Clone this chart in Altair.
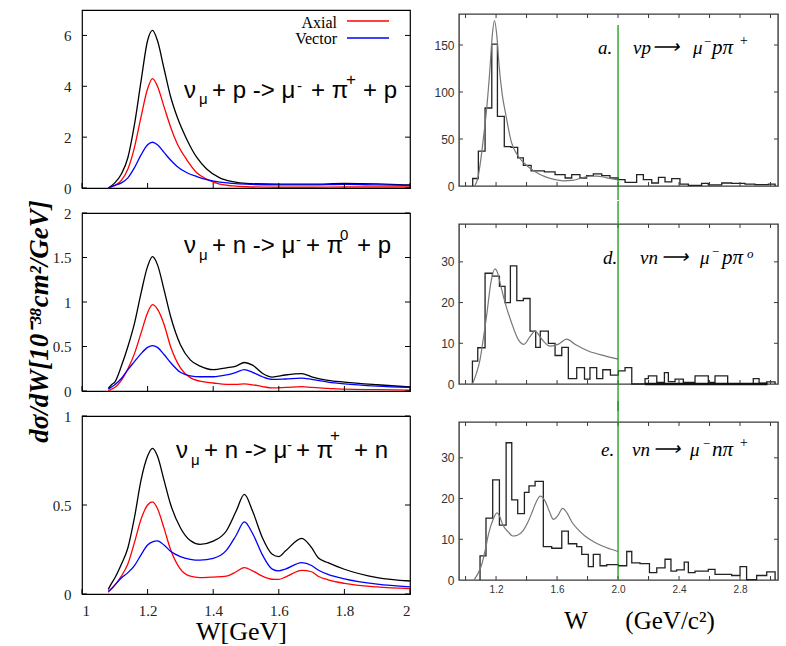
import altair as alt
import pandas as pd

SERIF = "Liberation Serif"
SANS = "Liberation Sans"
ONE = pd.DataFrame({"z": [0]})

# ---------------- theory curves: dsigma/dW in 1e-38 cm^2/GeV ----------------
# nu_mu + p -> mu- + pi+ + p
W_PP = [1.08, 1.10, 1.12, 1.14, 1.16, 1.18, 1.20, 1.215, 1.23, 1.25, 1.27, 1.29,
        1.32, 1.35, 1.38, 1.42, 1.46, 1.50, 1.60, 1.70, 1.80, 1.90, 2.00]
PP_TOTAL = [0, 0.2, 0.55, 1.2, 2.5, 4.2, 5.8, 6.2, 5.8, 4.7, 3.6, 2.8,
            1.9, 1.2, 0.75, 0.4, 0.25, 0.18, 0.15, 0.15, 0.18, 0.16, 0.12]
PP_AXIAL = [0, 0.1, 0.3, 0.75, 1.6, 2.8, 3.9, 4.3, 4.0, 3.2, 2.4, 1.75,
            1.1, 0.6, 0.35, 0.15, 0.08, 0.05, 0.03, 0.03, 0.04, 0.04, 0.04]
PP_VECTOR = [0, 0.1, 0.2, 0.4, 0.8, 1.3, 1.7, 1.8, 1.7, 1.4, 1.1, 0.85,
             0.6, 0.45, 0.33, 0.23, 0.18, 0.15, 0.12, 0.12, 0.14, 0.12, 0.1]

# nu_mu + n -> mu- + pi0 + p
W_NP0 = [1.08, 1.09, 1.10, 1.12, 1.14, 1.16, 1.18, 1.20, 1.215, 1.23, 1.25, 1.27,
         1.30, 1.33, 1.36, 1.40, 1.44, 1.47, 1.495, 1.52, 1.55, 1.58, 1.62, 1.67,
         1.70, 1.75, 1.80, 1.90, 2.00]
NP0_TOTAL = [0.03, 0.07, 0.10, 0.28, 0.5, 0.76, 1.1, 1.4, 1.51, 1.42, 1.14, 0.84,
             0.52, 0.35, 0.28, 0.24, 0.26, 0.28, 0.32, 0.29, 0.2, 0.157, 0.18, 0.195,
             0.16, 0.12, 0.1, 0.07, 0.045]
NP0_AXIAL = [0.0, 0.02, 0.04, 0.12, 0.25, 0.42, 0.65, 0.88, 0.97, 0.92, 0.75, 0.5,
             0.26, 0.15, 0.11, 0.09, 0.075, 0.075, 0.08, 0.07, 0.05, 0.035, 0.04, 0.05,
             0.04, 0.03, 0.02, 0.015, 0.01]
NP0_VECTOR = [0.02, 0.045, 0.07, 0.14, 0.24, 0.33, 0.42, 0.49, 0.51, 0.49, 0.41, 0.32,
              0.21, 0.17, 0.16, 0.16, 0.18, 0.21, 0.24, 0.21, 0.16, 0.13, 0.135, 0.145,
              0.13, 0.1, 0.08, 0.055, 0.04]

# nu_mu + n -> mu- + pi+ + n
W_NPP = [1.08, 1.09, 1.10, 1.12, 1.14, 1.16, 1.18, 1.20, 1.215, 1.23, 1.25, 1.27,
         1.30, 1.33, 1.36, 1.40, 1.44, 1.47, 1.495, 1.52, 1.55, 1.58, 1.60, 1.62,
         1.67, 1.70, 1.72, 1.75, 1.80, 1.90, 2.00]
NPP_TOTAL = [0.026, 0.06, 0.09, 0.167, 0.26, 0.43, 0.64, 0.775, 0.818, 0.775, 0.64, 0.504,
             0.372, 0.30, 0.279, 0.297, 0.354, 0.466, 0.56, 0.466, 0.316, 0.223, 0.21, 0.241,
             0.313, 0.26, 0.204, 0.176, 0.139, 0.092, 0.073]
NPP_AXIAL = [0.01, 0.03, 0.05, 0.1, 0.17, 0.29, 0.42, 0.5, 0.517, 0.48, 0.37, 0.25,
             0.14, 0.1, 0.092, 0.095, 0.1, 0.125, 0.148, 0.13, 0.1, 0.083, 0.082, 0.095,
             0.133, 0.125, 0.1, 0.08, 0.06, 0.04, 0.03]
NPP_VECTOR = [0.015, 0.03, 0.05, 0.09, 0.12, 0.16, 0.22, 0.275, 0.293, 0.298, 0.275, 0.24,
              0.21, 0.195, 0.19, 0.2, 0.245, 0.33, 0.405, 0.34, 0.22, 0.14, 0.13, 0.14,
              0.176, 0.16, 0.135, 0.11, 0.085, 0.055, 0.04]

# ---------------- measured event histograms (bin edges / counts) ----------------
A_EDGES = [1.047, 1.084, 1.128, 1.172, 1.209, 1.254, 1.298, 1.342, 1.379, 1.430,
           1.517, 1.587, 1.653, 1.696, 1.750, 1.794, 1.838, 1.893, 1.947, 2.002,
           2.046, 2.122, 2.166, 2.221, 2.265, 2.308, 2.352, 2.406, 2.461, 2.548,
           2.592, 2.680, 2.745, 2.833, 2.898, 2.986, 3.030]
A_COUNTS = [8, 37, 83, 151, 74, 42, 41, 30, 22, 16, 15, 12, 8.5, 12, 8.5, 11, 13, 11,
            8.5, 6.7, 3.9, 12, 6.7, 3.2, 9.2, 4.3, 7.8, 2.1, 0.7, 2.8, 1.1, 3.2, 2.8,
            2.1, 1.4, 2.1]
A_CURVE_W = [1.06, 1.08, 1.10, 1.12, 1.14, 1.16, 1.175, 1.19, 1.205, 1.22, 1.24, 1.265,
             1.30, 1.34, 1.38, 1.43, 1.48, 1.52, 1.58, 1.64, 1.70, 1.76, 1.82, 1.86,
             1.92, 2.00]
A_CURVE = [0, 8, 28, 55, 85, 125, 160, 176, 160, 128, 98, 75, 47, 33, 25, 18, 13, 10,
           7, 5.5, 6, 8.5, 10.5, 10.5, 9, 6.5]

D_EDGES = [1.045, 1.080, 1.128, 1.176, 1.222, 1.259, 1.294, 1.336, 1.379, 1.423,
           1.460, 1.490, 1.543, 1.587, 1.631, 1.674, 1.729, 1.780, 1.816, 1.860,
           1.900, 1.950, 2.002, 2.046, 2.090, 2.177, 2.199, 2.254, 2.304, 2.330,
           2.374, 2.428, 2.505, 2.592, 2.636, 2.719, 2.887, 2.925, 2.975, 3.030]
D_COUNTS = [5.6, 8.9, 27.2, 26.5, 24, 20, 29, 20.5, 21, 13, 9, 13, 10, 7, 9, 1.3, 4,
            1.2, 4, 1.3, 3.5, 2.2, 3.2, 4, 0, 1.3, 2, 0.4, 2.8, 0.6, 1.2, 0.4, 2, 0.4,
            2, 0, 1.3, 0.2, 0.5]
D_EMPTY_SPAN = [2.177, 2.98]
D_CURVE_W = [1.045, 1.07, 1.095, 1.12, 1.138, 1.166, 1.193, 1.21, 1.226, 1.259, 1.302,
             1.346, 1.383, 1.42, 1.456, 1.50, 1.554, 1.61, 1.663, 1.72, 1.805, 1.914, 2.0]
D_CURVE = [0, 2.5, 6, 12, 16.7, 24.9, 28.3, 27.3, 24.9, 20, 15, 10.9, 9.75, 11.5, 13,
           11, 9.3, 9.8, 11, 9.7, 8.1, 6.9, 6.1]

E_EDGES = [1.095, 1.134, 1.178, 1.222, 1.266, 1.303, 1.342, 1.386, 1.416, 1.456,
           1.510, 1.565, 1.631, 1.674, 1.729, 1.762, 1.805, 1.838, 1.882, 1.926,
           2.002, 2.057, 2.090, 2.144, 2.206, 2.254, 2.308, 2.347, 2.384, 2.434,
           2.461, 2.505, 2.592, 2.636, 2.745, 2.800, 2.843, 2.909, 2.975, 3.030]
E_COUNTS = [5.9, 15.2, 24.6, 13.5, 33.7, 19.7, 16.3, 21.5, 23.1, 24.2, 8.2, 7.8, 12,
            8.9, 8.2, 6.3, 3.3, 6.3, 3.5, 3.8, 3.5, 7, 4.2, 4.0, 1.8, 3.0, 5.1, 2.2,
            2.5, 4.4, 1.8, 2.2, 2.6, 1.4, 1.1, 3.3, 0.1, 1.1, 2.0]
E_CURVE_W = [1.055, 1.08, 1.106, 1.13, 1.15, 1.18, 1.206, 1.225, 1.245, 1.28, 1.31,
             1.34, 1.375, 1.41, 1.44, 1.465, 1.49, 1.52, 1.55, 1.576, 1.605, 1.637,
             1.665, 1.696, 1.74, 1.783, 1.84, 1.893, 1.95, 2.0]
E_CURVE = [0, 1.5, 3.8, 7.5, 11.2, 14.8, 16.5, 15.5, 13.5, 11.8, 10.8, 11, 12, 14.3,
           17, 19.3, 20.6, 19.5, 16.8, 14.9, 15.8, 17.6, 16.5, 14.3, 12.3, 10.8, 9.4,
           8.4, 7.6, 7]

W_CUT = 2.0

LEFT_XT = [1.0, 1.2, 1.4, 1.6, 1.8, 2.0]
RIGHT_XT = [1.0, 1.2, 1.4, 1.6, 1.8, 2.0, 2.2, 2.4, 2.6, 2.8, 3.0]
RIGHT_XL = [1.2, 1.6, 2.0, 2.4, 2.8]

LW, LH = 328, 178
RW = 319
FRAME_R = "#3a3a3a"
GREEN = "#1a9a1a"


def text_piece(t, x, y, size, font=SANS, style="normal", align="left", color="black"):
    return alt.Chart(ONE).mark_text(
        align=align, baseline="alphabetic", font=font, fontSize=size,
        fontStyle=style, color=color,
    ).encode(x=alt.value(x), y=alt.value(y), text=alt.value(t))


def left_panel(w, tot, axl, vec, ymax, yticks, pieces, show_x=False,
               x_title=None, y_title=None, legend=False):
    df = pd.DataFrame({"W": w, "tot": tot, "ax": axl, "vec": vec})
    xs = alt.Scale(domain=[1.0, 2.0], nice=False, zero=False)
    ys = alt.Scale(domain=[0, ymax], nice=False)
    xaxis = alt.Axis(values=LEFT_XT, format="~g", labels=show_x, ticks=False,
                     tickSize=0, domain=False, grid=False, labelFont=SERIF,
                     labelFontSize=15, labelColor="#222", labelPadding=9,
                     titleFont=SERIF, titleFontSize=26, titleFontWeight="normal",
                     titleColor="black", titleX=159, titleY=45,
                     titleAlign="center", titleBaseline="alphabetic")
    yaxis = alt.Axis(values=yticks, format="~g", ticks=False, tickSize=0,
                     domain=False, grid=False, labelFont=SERIF, labelFontSize=15,
                     labelColor="#222", labelPadding=11,
                     titleFont=SERIF, titleFontSize=27, titleFontStyle="italic",
                     titleFontWeight="bold", titleColor="black", titleAngle=270,
                     titleX=-43, titleY=108, titleAlign="center",
                     titleBaseline="middle")

    def X(field):
        return alt.X(field, scale=xs, axis=xaxis, title=x_title)

    def Y(field):
        return alt.Y(field, scale=ys, axis=yaxis, title=y_title)

    base = alt.Chart(df)
    total = base.mark_line(color="black", strokeWidth=1.3, interpolate="monotone").encode(
        x=X("W:Q"), y=Y("tot:Q"))
    axial = base.mark_line(color="#ff0000", strokeWidth=1.3, interpolate="monotone").encode(
        x=X("W:Q"), y=Y("ax:Q"))
    vector = base.mark_line(color="#0000ff", strokeWidth=1.3, interpolate="monotone").encode(
        x=X("W:Q"), y=Y("vec:Q"))

    xt = pd.DataFrame({"t": LEFT_XT})
    yt = pd.DataFrame({"t": yticks})
    tick_b = alt.Chart(xt).mark_rule(color="black", strokeWidth=1).encode(
        x=X("t:Q"), y=alt.value(LH), y2=alt.value(LH - 5))
    tick_l = alt.Chart(yt).mark_rule(color="black", strokeWidth=1).encode(
        y=Y("t:Q"), x=alt.value(0), x2=alt.value(5))
    tick_r = alt.Chart(yt).mark_rule(color="black", strokeWidth=1).encode(
        y=Y("t:Q"), x=alt.value(LW), x2=alt.value(LW - 5))

    layers = [total, axial, vector, tick_b, tick_l, tick_r]
    layers += [text_piece(t, x, y, s) for (t, x, y, s) in pieces]
    if legend:
        layers += [
            text_piece("Axial", 255, 18, 16, font=SERIF, align="right"),
            text_piece("Vector", 255, 34, 16, font=SERIF, align="right"),
            alt.Chart(ONE).mark_rule(color="#ff0000", strokeWidth=1.3).encode(
                x=alt.value(265), x2=alt.value(307), y=alt.value(11)),
            alt.Chart(ONE).mark_rule(color="#0000ff", strokeWidth=1.3).encode(
                x=alt.value(265), x2=alt.value(307), y=alt.value(28)),
        ]
    return alt.layer(*layers).properties(
        width=LW, height=LH,
        view=alt.ViewBackground(stroke="black", strokeWidth=1.2))


def step_frame(edges, counts):
    xs = [edges[0]] + list(edges[:-1]) + [edges[-1]]
    ys = [0] + list(counts) + [0]
    return pd.DataFrame({"W": xs, "n": ys, "i": list(range(len(xs)))})


def right_panel(edges, counts, cw, cv, ymax, ylabels, yticks, height, pieces,
                green_span, show_x=False, x_title=None, empty_span=None):
    xs = alt.Scale(domain=[0.957, 3.049], nice=False, zero=False)
    ys = alt.Scale(domain=[0, ymax], nice=False)
    xaxis = alt.Axis(values=RIGHT_XL, format=".1f", labels=show_x, ticks=False,
                     tickSize=0, domain=False, grid=False, labelFont=SANS,
                     labelFontSize=10, labelColor="#333", labelPadding=4,
                     titleFont=SERIF, titleFontSize=25, titleFontWeight="normal",
                     titleColor="black", titleX=180, titleY=48,
                     titleAlign="center", titleBaseline="alphabetic")
    yaxis = alt.Axis(values=ylabels, format="d", ticks=False, tickSize=0,
                     domain=False, grid=False, labelFont=SANS, labelFontSize=12,
                     labelColor="#333", labelPadding=5)

    def X(field):
        return alt.X(field, scale=xs, axis=xaxis, title=x_title)

    def Y(field):
        return alt.Y(field, scale=ys, axis=yaxis, title=None)

    hist = alt.Chart(step_frame(edges, counts)).mark_line(
        color="#222", strokeWidth=1.3, interpolate="step-after").encode(
        x=X("W:Q"), y=Y("n:Q"), order="i:Q")
    curve = alt.Chart(pd.DataFrame({"W": cw, "v": cv})).mark_line(
        color="#777", strokeWidth=1.2, interpolate="monotone").encode(
        x=X("W:Q"), y=Y("v:Q"))
    cut = alt.Chart(pd.DataFrame({"W": [W_CUT]})).mark_rule(
        color=GREEN, strokeWidth=1.3).encode(
        x=X("W:Q"), y=alt.value(green_span[0]), y2=alt.value(green_span[1]))

    xt = pd.DataFrame({"t": RIGHT_XT})
    yt = pd.DataFrame({"t": yticks})
    tk = dict(color=FRAME_R, strokeWidth=1)
    ticks = [
        alt.Chart(xt).mark_rule(**tk).encode(
            x=X("t:Q"), y=alt.value(height), y2=alt.value(height - 4)),
        alt.Chart(xt).mark_rule(**tk).encode(
            x=X("t:Q"), y=alt.value(0), y2=alt.value(4)),
        alt.Chart(yt).mark_rule(**tk).encode(
            y=Y("t:Q"), x=alt.value(0), x2=alt.value(4)),
        alt.Chart(yt).mark_rule(**tk).encode(
            y=Y("t:Q"), x=alt.value(RW), x2=alt.value(RW - 4)),
    ]
    layers = [hist, curve] + ticks
    if empty_span:
        layers.append(
            alt.Chart(pd.DataFrame({"a": [empty_span[0]], "b": [empty_span[1]], "y": [0]}))
            .mark_rule(color="#111", strokeWidth=2.5)
            .encode(x=X("a:Q"), x2="b:Q", y=Y("y:Q")))
    layers.append(cut)
    layers += [text_piece(t, x, y, s, font=SERIF, style="italic") for (t, x, y, s) in pieces]
    return alt.layer(*layers).properties(
        width=RW, height=height,
        view=alt.ViewBackground(stroke=FRAME_R, strokeWidth=1.4))


# reaction labels: (text, x, baseline, size) in panel pixels
P1_TEXT = [("ν", 102, 88, 24), ("μ", 117, 94, 15), ("+ p -> μ", 130, 88, 24),
           ("-", 215, 81, 15), ("+ π", 229, 88, 24), ("+", 264, 75, 17),
           ("+ p", 281, 88, 24)]
P2_TEXT = [("ν", 102, 40, 24), ("μ", 117, 47, 15), ("+ n -> μ", 130, 40, 24),
           ("-", 214, 32, 15), ("+ π", 224, 40, 24), ("0", 258, 27, 15),
           ("+ p", 275, 40, 24)]
P3_TEXT = [("ν", 94, 42, 24), ("μ", 109, 49, 15), ("+ n -> μ", 122, 42, 24),
           ("-", 205, 34, 15), ("+ π", 214, 42, 24), ("+", 248, 25, 17),
           ("+ n", 272, 42, 24)]
A_TEXT = [("a.", 139, 40, 19), ("νp", 174, 40, 19), ("⟶", 193, 39, 19),
          ("μ", 234, 40, 19), ("−", 244, 32, 13), ("pπ", 253, 40, 21),
          ("+", 280, 31, 14)]
D_TEXT = [("d.", 144, 40, 19), ("νn", 181, 40, 19), ("⟶", 202, 39, 19),
          ("μ", 241, 40, 19), ("−", 252, 32, 13), ("pπ", 263, 40, 21),
          ("o", 288, 34, 13)]
E_TEXT = [("e.", 142, 34, 19), ("νn", 173, 34, 19), ("⟶", 194, 33, 19),
          ("μ", 231, 34, 19), ("−", 243, 26, 13), ("nπ", 253, 34, 21),
          ("+", 280, 25, 14)]

p1 = left_panel(W_PP, PP_TOTAL, PP_AXIAL, PP_VECTOR, 7, [0, 2, 4, 6], P1_TEXT, legend=True)
p2 = left_panel(W_NP0, NP0_TOTAL, NP0_AXIAL, NP0_VECTOR, 2, [0, 0.5, 1, 1.5, 2], P2_TEXT,
                y_title="dσ/dW[10⁻³⁸cm²/GeV]")
p3 = left_panel(W_NPP, NPP_TOTAL, NPP_AXIAL, NPP_VECTOR, 1, [0, 0.5, 1], P3_TEXT,
                show_x=True, x_title="W[GeV]")

pa = right_panel(A_EDGES, A_COUNTS, A_CURVE_W, A_CURVE, 183, [0, 50, 100, 150],
                 [50, 100, 150], 172, A_TEXT, (11, 186))
pd_ = right_panel(D_EDGES, D_COUNTS, D_CURVE_W, D_CURVE, 39.3, [0, 10, 20, 30],
                  [10, 20, 30], 160, D_TEXT, (-23, 187), empty_span=D_EMPTY_SPAN)
pe = right_panel(E_EDGES, E_COUNTS, E_CURVE_W, E_CURVE, 38.8, [0, 10, 20, 30],
                 [10, 20, 30], 158, E_TEXT, (-21, 157), show_x=True,
                 x_title="W" + "\u00a0" * 6 + "(GeV/c²)")

# thin blank strip that drops the histogram column a few pixels
spacer = alt.Chart(ONE).mark_rule(opacity=0).encode(
    x=alt.value(0), x2=alt.value(1), y=alt.value(0)
).properties(width=RW, height=1, view=alt.ViewBackground(strokeOpacity=0))

left = alt.vconcat(p1, p2, p3, spacing=25, bounds="flush")
right = alt.vconcat(spacer, alt.vconcat(pa, pd_, pe, spacing=38, bounds="flush"),
                    spacing=1)

chart = alt.hconcat(left, right, spacing=19).properties(
    padding={"left": 24, "top": 9, "right": 0, "bottom": 0},
    background="white",
)

chart.save("out.html", embed_options={"renderer": "svg", "actions": False})
